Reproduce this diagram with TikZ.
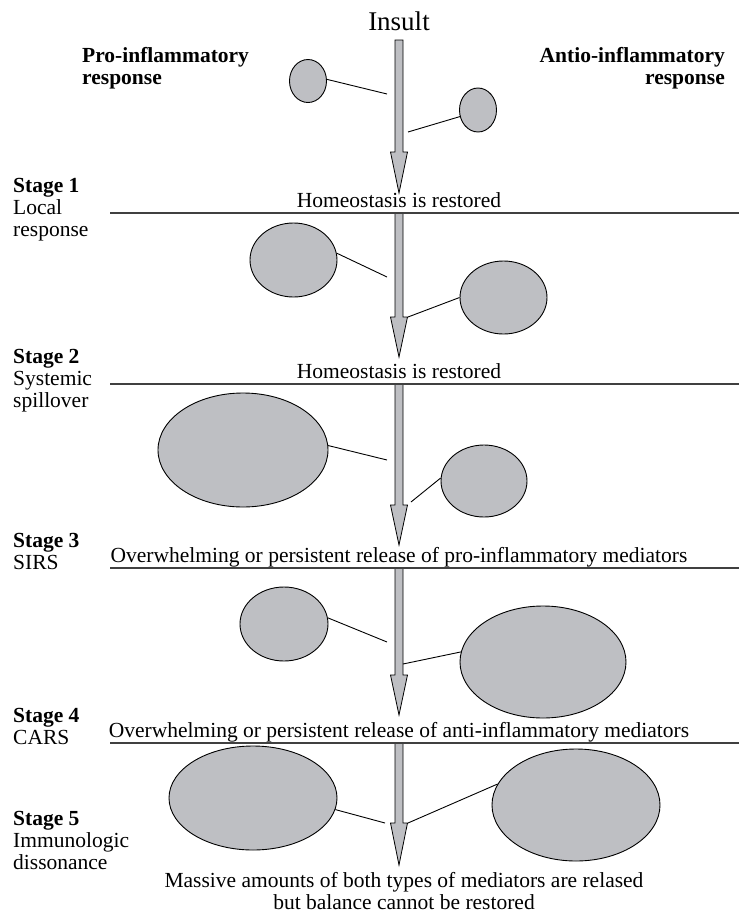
\documentclass[tikz,border=0pt]{standalone}
\usepackage{fontspec}
\setmainfont{Liberation Serif}
\usepackage{xcolor}
\usepackage{tikz}
\usetikzlibrary{shapes.geometric}

\definecolor{cellgray}{RGB}{190,191,195}
\tikzset{
    cell/.style={ellipse, draw=black, fill=cellgray, line width=0.9pt, inner sep=0pt},
    bigarrow/.style={draw=black, fill=cellgray, line width=0.8pt, line join=miter},
    link/.style={line width=0.9pt},
    rule/.style={line width=1.3pt, draw=black!75},
    txt/.style={font=\fontsize{21.5}{22}\selectfont, inner sep=0pt},
    hd/.style={font=\fontsize{21.5}{22}\selectfont\bfseries, inner sep=0pt},
}

\begin{document}
\begin{tikzpicture}[x=1pt, y=-1pt]
        \useasboundingbox (0,0) rectangle (739,916);

        % headings
        \node[font=\fontsize{27}{30}\selectfont, inner sep=0pt, anchor=base] (insult) at (399,30) {Insult};
        \node[hd, align=left, anchor=north west] (prohead) at (82,47.5) {Pro-inflammatory\\response};
        \node[hd, align=right, anchor=north east] (antihead) at (725,47.5) {Antio-inflammatory\\response};

        % the big arrows
        \draw[bigarrow] (395,40) -- (403,40) -- (403,152) -- (407.5,152) -- (399,193) -- (390.5,152) -- (395,152) -- cycle;
        \draw[bigarrow] (395,213) -- (403,213) -- (403,317) -- (407.5,317) -- (399,357) -- (390.5,317) -- (395,317) -- cycle;
        \draw[bigarrow] (395,384) -- (403,384) -- (403,505) -- (407.5,505) -- (399,545) -- (390.5,505) -- (395,505) -- cycle;
        \draw[bigarrow] (395,568) -- (403,568) -- (403,675) -- (407.5,675) -- (399,715) -- (390.5,675) -- (395,675) -- cycle;
        \draw[bigarrow] (395,743) -- (403,743) -- (403,823) -- (407.5,823) -- (399,865) -- (390.5,823) -- (395,823) -- cycle;

        % stage borders
        \draw[rule] (110,213) -- (739,213);
        \draw[rule] (110,384) -- (739,384);
        \draw[rule] (110,568) -- (739,568);
        \draw[rule] (110,743) -- (739,743);

        % stage labels
        \node[txt, align=left, anchor=north west] (stage1) at (13,178.5) {\textbf{Stage 1}\\Local\\response};
        \node[txt, align=left, anchor=north west] (stage2) at (13,349.5) {\textbf{Stage 2}\\Systemic\\spillover};
        \node[txt, align=left, anchor=north west] (stage3) at (13,533.5) {\textbf{Stage 3}\\SIRS};
        \node[txt, align=left, anchor=north west] (stage4) at (13,708.5) {\textbf{Stage 4}\\CARS};
        \node[txt, align=left, anchor=north west] (stage5) at (13,811.5) {\textbf{Stage 5}\\Immunologic\\dissonance};

        \node[txt, anchor=base] (home1) at (399,207) {Homeostasis is restored};
        \node[txt, anchor=base] (home2) at (399,378) {Homeostasis is restored};
        \node[txt, anchor=base] (sirs) at (399,562) {Overwhelming or persistent release of pro-inflammatory mediators};
        \node[txt, anchor=base] (cars) at (399,737) {Overwhelming or persistent release of anti-inflammatory mediators};
        \node[txt, align=center, anchor=north] (final) at (404,872.5) {Massive amounts of both types of mediators are relased\\but balance cannot be restored};

        % mediators
        \node[cell, minimum width=37pt, minimum height=43pt] (pro1) at (308,81) {};
        \node[cell, minimum width=37pt, minimum height=44pt] (anti1) at (478,110) {};
        \node[cell, minimum width=87pt, minimum height=74pt] (pro2) at (293.5,260) {};
        \node[cell, minimum width=87pt, minimum height=73pt] (anti2) at (503.5,297.5) {};
        \node[cell, minimum width=170pt, minimum height=114pt] (pro3) at (243,450) {};
        \node[cell, minimum width=86pt, minimum height=72pt] (anti3) at (484,481) {};
        \node[cell, minimum width=88pt, minimum height=74pt] (pro4) at (284,624) {};
        \node[cell, minimum width=166pt, minimum height=112pt] (anti4) at (543,662) {};
        \node[cell, minimum width=168pt, minimum height=104pt] (pro5) at (253,798) {};
        \node[cell, minimum width=168pt, minimum height=112pt] (anti5) at (576,805) {};

        \coordinate (p1) at (387,94);
        \coordinate (a1) at (408,132);
        \coordinate (p2) at (387,277);
        \coordinate (a2) at (408,317);
        \coordinate (p3) at (387,460);
        \coordinate (a3) at (411,502);
        \coordinate (p4) at (387,642);
        \coordinate (a4) at (403,664);
        \coordinate (p5) at (385,823);
        \coordinate (a5) at (408,823);

        \draw[link] (pro1.5) -- (p1);
        \draw[link] (anti1.200) -- (a1);
        \draw[link] (pro2.9) -- (p2);
        \draw[link] (anti2.180) -- (a2);
        \draw[link] (pro3.3) -- (p3);
        \draw[link] (anti3.176) -- (a3);
        \draw[link] (pro4.8) -- (p4);
        \draw[link] (anti4.173) -- (a4);
        \draw[link] (pro5.-8) -- (p5);
        \draw[link] (anti5.165) -- (a5);
\end{tikzpicture}
\end{document}
